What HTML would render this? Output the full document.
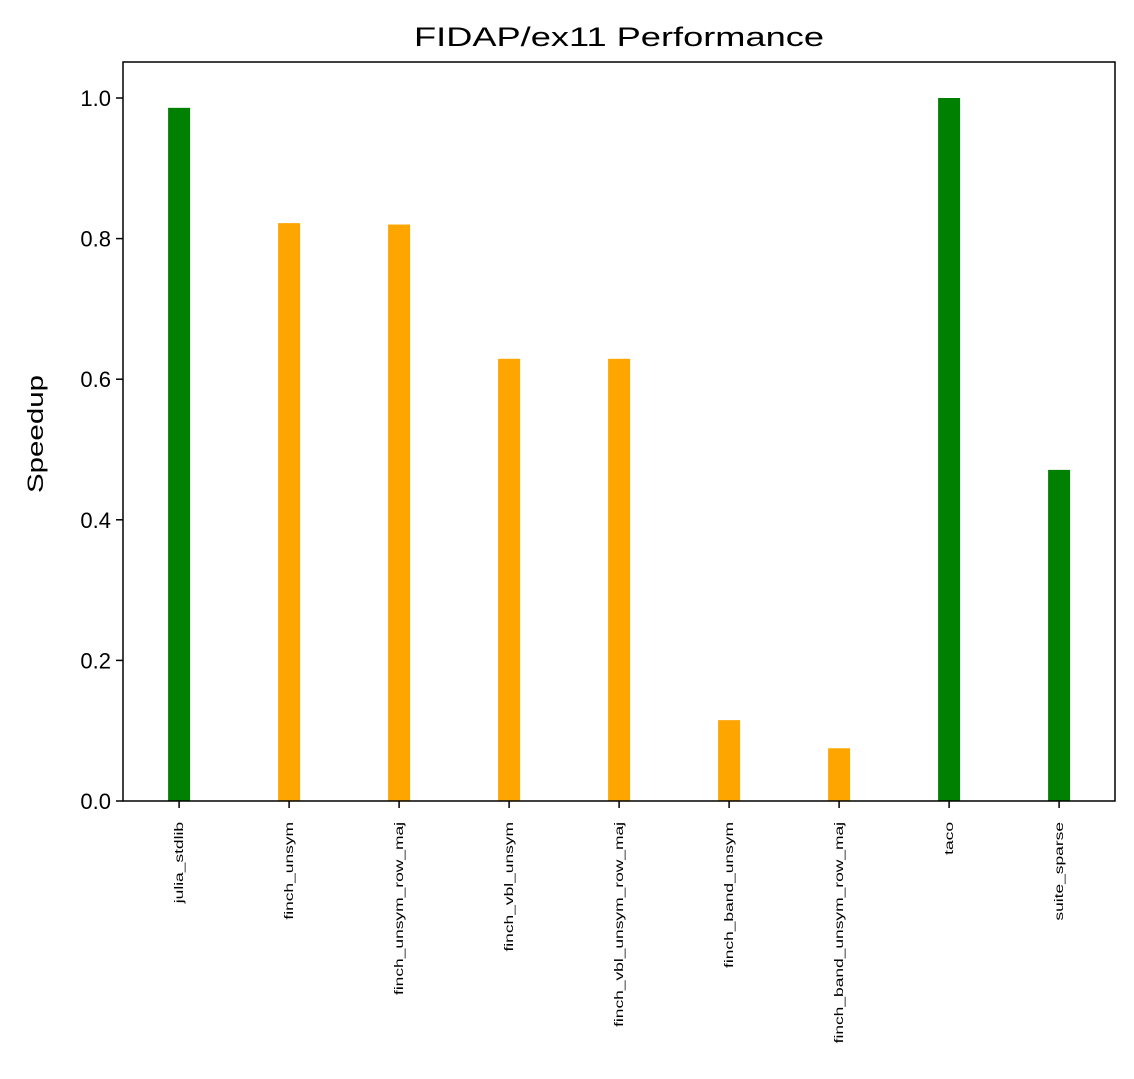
<!DOCTYPE html>
<html><head><meta charset="utf-8"><style>
html,body{margin:0;padding:0;background:#fff;}
svg text{font-family:"Liberation Sans",sans-serif;fill:#000;}
</style></head><body>
<svg id="chart" width="1134" height="1074" xmlns="http://www.w3.org/2000/svg">
<rect width="1134" height="1074" fill="#fff"/>
<text x="619" y="46" font-size="27" text-anchor="middle" textLength="410" lengthAdjust="spacingAndGlyphs">FIDAP/ex11 Performance</text>
<text transform="translate(43,434) rotate(-90)" font-size="22" text-anchor="middle" textLength="118" lengthAdjust="spacingAndGlyphs">Speedup</text>
<g id="bars"></g><g id="axes"></g>
</svg>
<script>
const categories = ["julia_stdlib","finch_unsym","finch_unsym_row_maj","finch_vbl_unsym","finch_vbl_unsym_row_maj","finch_band_unsym","finch_band_unsym_row_maj","taco","suite_sparse"];
const speedups = [0.986,0.822,0.820,0.629,0.629,0.115,0.075,1.0,0.471];
const barColors = ["green","orange","orange","orange","orange","orange","orange","green","green"];
const yTicks = [0,0.2,0.4,0.6,0.8,1.0];
const yTickLabels = ["0.0","0.2","0.4","0.6","0.8","1.0"];

const L=123,R=1115,T=62,B=801;
const y = v => B - v*703;
const x = i => L + (i + 0.51)*110;
const NS="http://www.w3.org/2000/svg";
const bars=document.getElementById('bars'), axes=document.getElementById('axes');
function mk(tag,attrs,parent){const e=document.createElementNS(NS,tag);for(const k in attrs)e.setAttribute(k,attrs[k]);parent.appendChild(e);return e;}
speedups.forEach((v,i)=>{
  const r=mk('rect',{x:x(i)-11,y:y(v),width:22,height:B-y(v),fill:barColors[i]},bars);
  
  
  mk('line',{x1:x(i),x2:x(i),y1:B,y2:B+7,stroke:'#000','stroke-width':1.5},axes);
  const t=mk('text',{transform:`translate(${x(i)+4},822) rotate(-90) scale(1.45,1)`,'font-size':12,'text-anchor':'end'},axes);
  t.textContent=categories[i];
  
  
});
yTicks.forEach((v,i)=>{
  mk('line',{x1:L-7,x2:L,y1:y(v),y2:y(v),stroke:'#000','stroke-width':1.5},axes);
  const t=mk('text',{x:L-12,y:y(v)+8,'font-size':22,'text-anchor':'end'},axes);
  t.textContent=yTickLabels[i];
  
  
});
const f=mk('rect',{x:L,y:T,width:R-L,height:B-T,fill:'none',stroke:'#000','stroke-width':1.5},axes);


</script>
</body></html>
